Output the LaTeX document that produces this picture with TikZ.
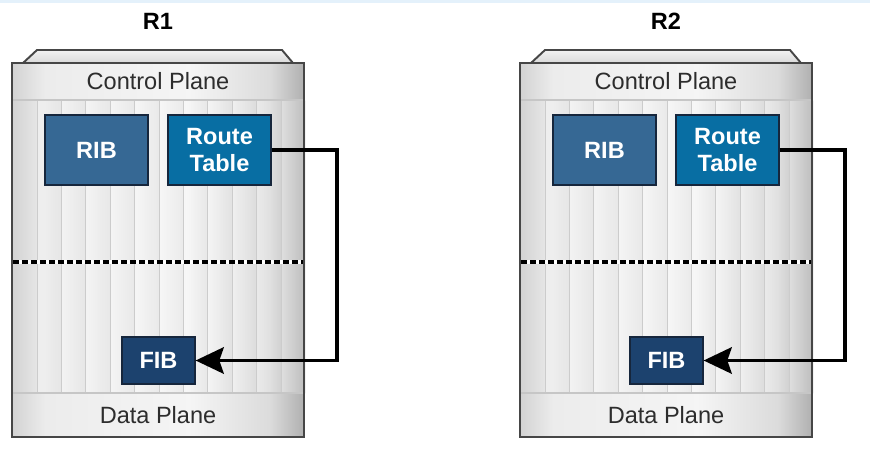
\documentclass[tikz,border=0pt]{standalone}
\usepackage{fontspec}
\setmainfont{Liberation Sans}
\usepackage{tikz}
\usetikzlibrary{arrows.meta,positioning,calc}
\usepackage{xcolor}
\definecolor{ribblue}{RGB}{54,104,148}
\definecolor{rtblue}{RGB}{8,110,163}
\definecolor{fibblue}{RGB}{28,66,110}
\definecolor{boxedge}{RGB}{22,38,60}
\definecolor{chassisedge}{RGB}{70,70,70}
\definecolor{labelgray}{RGB}{45,45,45}
\definecolor{topstrip}{RGB}{228,241,251}

\begin{document}
\begin{tikzpicture}[
    x=0.02cm, y=-0.02cm,
    every node/.style={font=\fontsize{13.4}{15}\selectfont, align=center, inner sep=0pt},
    tablebox/.style={draw=boxedge, line width=0.7pt, text=white, font=\fontsize{13.4}{15}\selectfont\bfseries,
                     minimum width=2.06cm, minimum height=1.4cm},
    fibbox/.style={tablebox, fill=fibblue, minimum width=1.46cm, minimum height=0.94cm},
    planelabel/.style={text=labelgray},
    routername/.style={font=\fontsize{13.4}{15}\selectfont\bfseries},
    flow/.style={line width=2.2pt, -{Stealth[length=16pt,width=15pt,inset=2.5pt]}},
    stripe/.style={draw=gray!40, line width=0.5pt},
]
\useasboundingbox (0,0) rectangle (870,454);
\fill[topstrip] (0,0) rectangle (870,3);
\foreach \i/\o in {1/0,2/508}{
  \begin{scope}[shift={(\o,0)}]
    % chassis
    \shade[top color=gray!10, bottom color=gray!30, draw=chassisedge, line width=1.1pt]
      (12,63) -- (23,63) -- (37,50) -- (282,50) -- (293,63) -- (304,63) -- cycle;
    \fill[gray!18] (12,63) rectangle (304,437);
    \shade[left color=gray!35, right color=gray!15] (12,63) rectangle (45,437);
    \shade[left color=gray!15, right color=gray!8] (45,63) rectangle (190,437);
    \shade[left color=gray!8, right color=gray!28] (190,63) rectangle (270,437);
    \shade[left color=gray!28, right color=gray!62] (270,63) rectangle (304,437);
    \foreach \k in {0,...,10}{
      \shade[left color=white, right color=gray!30, opacity=0.35]
        (37+24.4*\k,100) rectangle (61.4+24.4*\k,393);
      \draw[stripe] (37+24.4*\k,100) -- (37+24.4*\k,393);
    }
    \draw[gray!45, line width=0.7pt] (12,100) -- (304,100);
    \draw[gray!45, line width=0.7pt] (12,393) -- (304,393);
    \draw[chassisedge, line width=1.6pt] (12,63) rectangle (304,437);
    \draw[white, line width=2.4pt] (13,262) -- (303,262);
    \draw[black, line width=2.4pt, dash pattern=on 0.12cm off 0.06cm] (13,262) -- (303,262);
    % labels and tables
    \node[routername] (r\i) at (158,21.5) {R\i};
    \node[planelabel] (cp\i) at (158,81) {Control Plane};
    \node[planelabel] (dp\i) at (158,415) {Data Plane};
    \node[tablebox, fill=ribblue] (rib\i) at (96.5,150) {RIB};
    \node[tablebox, fill=rtblue] (rt\i) at (219.5,150) {Route\\Table};
    \node[fibbox] (fib\i) at (158.5,360.5) {FIB};
    \draw[flow] (rt\i.east) -- ++(65,0) |- (fib\i.east);
  \end{scope}
}
\end{tikzpicture}
\end{document}
